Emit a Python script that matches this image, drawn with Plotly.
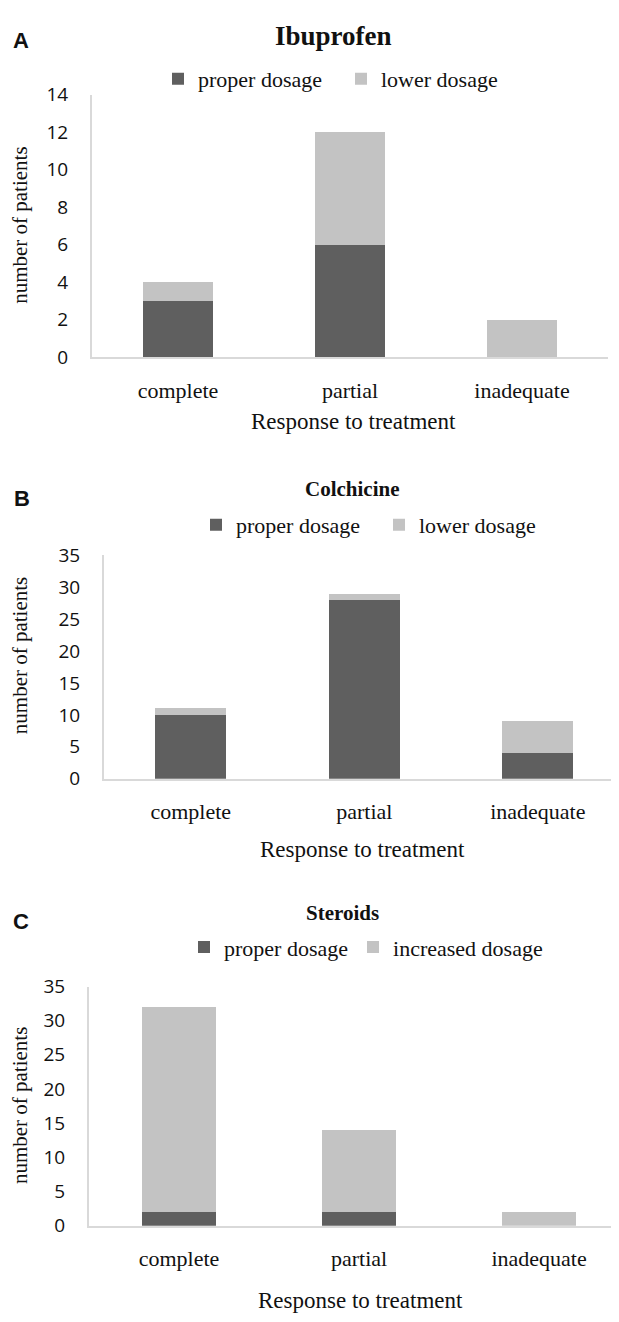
import plotly.graph_objects as go

# ---------------- data ----------------
categories = ["complete", "partial", "inadequate"]

ibu_proper = [3, 6, 0]
ibu_lower = [1, 6, 2]

col_proper = [10, 28, 4]
col_lower = [1, 1, 5]

ster_proper = [2, 2, 0]
ster_increased = [30, 12, 2]

panel_titles = ["Ibuprofen", "Colchicine", "Steroids"]
panel_letters = ["A", "B", "C"]
second_names = ["lower dosage", "lower dosage", "increased dosage"]
y_max = [14, 35, 35]
y_dtick = [2, 5, 5]

# ---------------- styling ----------------
# the page body has an 8px default margin, so the figure is drawn 8px in
OFF = 8
W, H = 619 - OFF, 1322 - OFF


def fx(x):
    return (x - OFF) / W


def fy(y):
    return 1 - (y - OFF) / H


DARK = "#5f5f5f"
LIGHT = "#c3c3c3"
AXIS = "#d9d9d9"
SERIF = "Liberation Serif, Times New Roman, serif"
SANS = "Open Sans, Calibri, sans-serif"
LETTER_FONT = "Liberation Sans, Arial, sans-serif"

# layout geometry per panel (pixels in the 619x1322 window)
geom = [
    dict(x0=92, x1=608, xr=2.5, ytop=83, ybot=351, title_x=333, title_y=23, title_size=27,
         letter_x=21, letter_y=28, leg_x=158, leg_y=67, leg_entry=138, cat_title_x=353, cat_title_y=417,
         ytitle_y=217),
    dict(x0=104, x1=619, xr=2.468, ytop=553, ybot=781, title_x=352, title_y=485, title_size=21,
         letter_x=22, letter_y=495, leg_x=196, leg_y=522, leg_entry=138, cat_title_x=362, cat_title_y=853,
         ytitle_y=656),
    dict(x0=89, x1=619, xr=2.444, ytop=993, ybot=1237, title_x=342, title_y=918, title_size=21,
         letter_x=21, letter_y=927, leg_x=184, leg_y=953, leg_entry=None, cat_title_x=360, cat_title_y=1313,
         ytitle_y=1115),
]

series = [
    (ibu_proper, ibu_lower),
    (col_proper, col_lower),
    (ster_proper, ster_increased),
]

fig = go.Figure()
layout = dict(
    width=W,
    height=H,
    margin=dict(l=0, r=0, t=0, b=0),
    paper_bgcolor="white",
    plot_bgcolor="white",
    barmode="stack",
    bargap=0.59,
    showlegend=True,
    annotations=[],
)

for i in range(3):
    g = geom[i]
    sfx = "" if i == 0 else str(i + 1)
    xa = "x" + sfx
    ya = "y" + sfx
    leg = "legend" + sfx
    proper, other = series[i]

    fig.add_trace(go.Bar(x=categories, y=proper, name="proper dosage", marker_color=DARK,
                         marker_line_width=0, xaxis=xa, yaxis=ya, legend=leg))
    fig.add_trace(go.Bar(x=categories, y=other, name=second_names[i], marker_color=LIGHT,
                         marker_line_width=0, xaxis=xa, yaxis=ya, legend=leg))

    layout["xaxis" + sfx] = dict(
        domain=[fx(g["x0"]), min(1.0, fx(g["x1"]))],
        anchor=ya,
        range=[-0.5, g["xr"]],
        showline=True, linecolor=AXIS, linewidth=2,
        showgrid=False, zeroline=False, ticks="",
        tickfont=dict(family=SERIF, size=22, color="#111"),
        ticklabelstandoff=12,
        fixedrange=True,
    )
    layout["yaxis" + sfx] = dict(
        domain=[fy(g["ybot"]), fy(g["ytop"])],
        anchor=xa,
        range=[0, y_max[i]],
        dtick=y_dtick[i],
        showline=True, linecolor=AXIS, linewidth=2,
        showgrid=False, zeroline=False, ticks="",
        tickfont=dict(family=SANS, size=19, color="#111"),
        ticklabelstandoff=18,
        fixedrange=True,
    )
    legend_cfg = dict(
        orientation="h",
        x=fx(g["leg_x"]), xanchor="left",
        y=fy(g["leg_y"]), yanchor="middle",
        font=dict(family=SERIF, size=22, color="#111"),
        traceorder="normal",
        bgcolor="rgba(0,0,0,0)",
        itemclick=False, itemdoubleclick=False,
    )
    if g["leg_entry"]:
        legend_cfg.update(entrywidth=g["leg_entry"], entrywidthmode="pixels")
    layout[leg] = legend_cfg
    layout["annotations"] += [
        dict(text=f"<b>{panel_titles[i]}</b>", x=fx(g["title_x"]), y=fy(g["title_y"]),
             xref="paper", yref="paper", xanchor="center", yanchor="middle", showarrow=False,
             font=dict(family=SERIF, size=g["title_size"], color="#111")),
        dict(text=f"<b>{panel_letters[i]}</b>", x=fx(g["letter_x"]), y=fy(g["letter_y"]),
             xref="paper", yref="paper", xanchor="center", yanchor="middle", showarrow=False,
             font=dict(family=LETTER_FONT, size=22, color="#111")),
        dict(text="Response to treatment", x=fx(g["cat_title_x"]), y=fy(g["cat_title_y"]),
             xref="paper", yref="paper", xanchor="center", yanchor="middle", showarrow=False,
             font=dict(family=SERIF, size=23, color="#111")),
        dict(text="number of patients", x=fx(20), y=fy(g["ytitle_y"]), textangle=-90,
             xref="paper", yref="paper", xanchor="center", yanchor="middle", showarrow=False,
             font=dict(family=SERIF, size=21, color="#111")),
    ]

fig.update_layout(**layout)
fig.write_html("out.html")
